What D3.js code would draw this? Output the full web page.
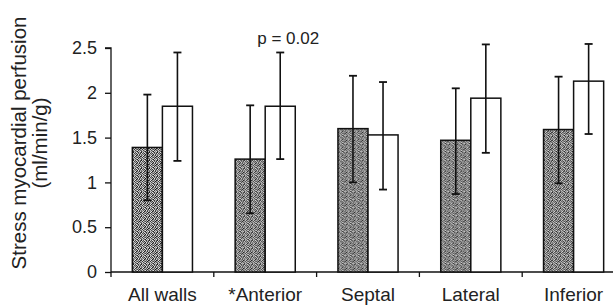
<!DOCTYPE html>
<html>
<head>
<meta charset="utf-8">
<script src="https://cdn.jsdelivr.net/npm/d3@7"></script>
<style>
	body{margin:0;background:#fff;}
	svg{display:block;font-family:"Liberation Sans",Arial,Helvetica,sans-serif;}
	.axis path,.axis line{stroke:#111;stroke-width:1.3;}
	.axis text{fill:#222;}
</style>
</head>
<body>
<svg id="chart" width="613" height="305"></svg>
<script>
// values
const categories = ['All walls','*Anterior','Septal','Lateral','Inferior'];
const series = ['dark','white'];
const darkMeans = [1.39,1.26,1.60,1.47,1.59];
const darkHigh = [1.98,1.86,2.19,2.05,2.18];
const darkLow = [0.80,0.655,1.00,0.87,0.99];
const whiteMeans = [1.85,1.85,1.53,1.94,2.13];
const whiteHigh = [2.45,2.45,2.12,2.54,2.545];
const whiteLow = [1.24,1.26,0.92,1.33,1.54];
const yTicks = [0,0.5,1,1.5,2,2.5];
const pLabel = 'p = 0.02';

const data = categories.map((c,i)=>{
	return {
		cat:c,
		values:[
			{key:'dark',mean:darkMeans[i],hi:darkHigh[i],lo:darkLow[i]},
			{key:'white',mean:whiteMeans[i],hi:whiteHigh[i],lo:whiteLow[i]}
		]
	}
});

const svg = d3.select('#chart');

const yScale = d3.scaleLinear()
	.domain([0,2.5])
	.range([272,48]);

const x0 = d3.scaleBand()
	.domain(categories)
	.range([111,625])
	.padding(0);

const x1 = d3.scaleBand()
	.domain(series)
	.range([0,x0.bandwidth()])
	.paddingInner(0)
	.paddingOuter(0.71);

// speckled texture for the dark bars (fixed 8x8 grey grid)
const texture = [
	'29517308',
	'61836192',
	'37092647',
	'90461835',
	'15738029',
	'84260571',
	'26917348',
	'73085916'
];
const defs = svg.append('defs');
const pat = defs.append('pattern')
	.attr('id','stipple')
	.attr('patternUnits','userSpaceOnUse')
	.attr('width',8)
	.attr('height',8);
texture.forEach((row,r)=>{
	row.split('').forEach((v,c)=>{
		const g = Math.round(30 + (+v)*22);
		pat.append('rect')
			.attr('x',c).attr('y',r)
			.attr('width',1).attr('height',1)
			.attr('fill','rgb('+g+','+g+','+g+')');
	});
});

// y axis
const yAxis = d3.axisLeft(yScale)
	.tickValues(yTicks)
	.tickSize(6)
	.tickPadding(8)
	.tickFormat(d=>String(d));
svg.append('g')
	.attr('class','axis y')
	.attr('transform','translate(111,0)')
	.call(yAxis)
	.call(g=>g.select('.domain').attr('d','M-6,48H0V277'))
	.selectAll('text')
		.style('font-size','18px');

// x axis with ticks on the category boundaries
const xAxis = svg.append('g')
	.attr('class','axis x')
	.attr('transform','translate(0,272)');
xAxis.append('line')
	.attr('x1',111).attr('x2',613)
	.attr('y1',0).attr('y2',0);
xAxis.selectAll('line.tick')
	.data(categories.slice(1))
	.join('line')
		.classed('tick',true)
		.attr('x1',d=>x0(d)).attr('x2',d=>x0(d))
		.attr('y1',0).attr('y2',5);
xAxis.selectAll('text')
	.data(categories)
	.join('text')
		.attr('x',d=>x0(d)+x0.bandwidth()/2)
		.attr('y',29)
		.attr('text-anchor','middle')
		.style('font-size','19px')
		.text(d=>d);

// bars
const groups = svg.selectAll('g.cat')
	.data(data)
	.join('g')
		.classed('cat',true)
		.attr('transform',d=>'translate('+x0(d.cat)+',0)');

groups.selectAll('rect.bar')
	.data(d=>d.values)
	.join('rect')
		.classed('bar',true)
		.attr('x',d=>x1(d.key))
		.attr('width',x1.bandwidth())
		.attr('y',d=>yScale(d.mean))
		.attr('height',d=>yScale(0)-yScale(d.mean))
		.attr('fill',d=>d.key=='dark' ? 'url(#stipple)' : '#fff')
		.attr('stroke','#111')
		.attr('stroke-width',1.5);

// error bars
const err = groups.selectAll('g.err')
	.data(d=>d.values)
	.join('g')
		.classed('err',true)
		.attr('transform',d=>'translate('+(x1(d.key)+x1.bandwidth()/2)+',0)');
err.append('line')
	.attr('y1',d=>yScale(d.hi))
	.attr('y2',d=>yScale(d.lo))
	.attr('stroke','#111').attr('stroke-width',1.6);
err.selectAll('line.cap')
	.data(d=>[d.hi,d.lo])
	.join('line')
		.classed('cap',true)
		.attr('x1',-4).attr('x2',4)
		.attr('y1',d=>yScale(d)).attr('y2',d=>yScale(d))
		.attr('stroke','#111').attr('stroke-width',1.8);

// significance label over anterior
svg.append('text')
	.attr('x',x0('*Anterior')+x1('white')+x1.bandwidth()/2+8)
	.attr('y',yScale(2.45)-8)
	.attr('text-anchor','middle')
	.style('font-size','17px')
	.style('fill','#222')
	.text(pLabel);

// y label
const ylab = svg.append('text')
	.attr('transform','translate(26,143) rotate(-90)')
	.attr('text-anchor','middle')
	.style('font-size','20.5px')
	.style('fill','#222');
ylab.append('tspan').attr('x',0).attr('y',0).text('Stress myocardial perfusion');
ylab.append('tspan').attr('x',0).attr('y',21).text('(ml/min/g)');
</script>
</body>
</html>
